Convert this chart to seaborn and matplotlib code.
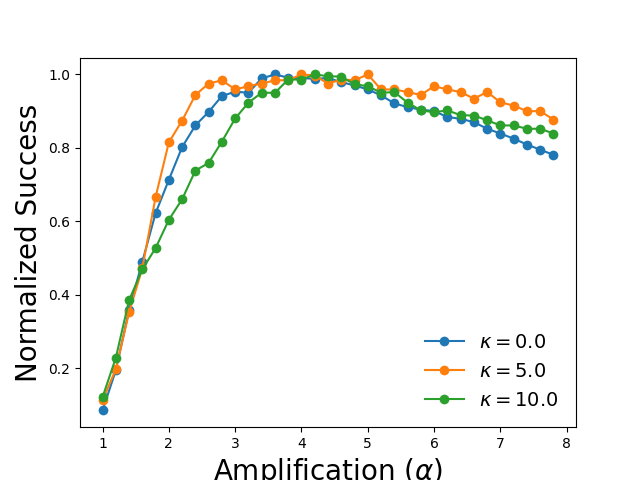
import numpy as np
import pandas as pd
import matplotlib
matplotlib.use("Agg")
import matplotlib.pyplot as plt
import seaborn as sns

alpha = np.round(np.arange(1.0, 7.81, 0.2), 1)

success_k0 = [0.085, 0.194, 0.358, 0.490, 0.622, 0.713, 0.802, 0.861, 0.898, 0.941,
              0.953, 0.950, 0.989, 1.000, 0.991, 0.990, 0.988, 0.990, 0.979, 0.970,
              0.959, 0.943, 0.921, 0.911, 0.904, 0.900, 0.884, 0.879, 0.870, 0.852,
              0.839, 0.825, 0.809, 0.795, 0.781]
success_k5 = [0.112, 0.197, 0.352, 0.472, 0.666, 0.815, 0.874, 0.944, 0.975, 0.984,
              0.959, 0.968, 0.975, 0.984, 0.984, 1.000, 0.997, 0.975, 0.986, 0.984,
              1.000, 0.959, 0.959, 0.952, 0.944, 0.968, 0.959, 0.952, 0.934, 0.952,
              0.924, 0.915, 0.900, 0.900, 0.877]
success_k10 = [0.121, 0.228, 0.385, 0.469, 0.527, 0.604, 0.660, 0.738, 0.759, 0.817,
               0.880, 0.923, 0.950, 0.950, 0.986, 0.986, 1.000, 0.995, 0.994, 0.973,
               0.968, 0.950, 0.952, 0.923, 0.902, 0.897, 0.902, 0.889, 0.888, 0.875,
               0.861, 0.861, 0.852, 0.852, 0.839]

kappas = [r"$\kappa=0.0$", r"$\kappa=5.0$", r"$\kappa=10.0$"]

df = pd.DataFrame({
    "alpha": np.tile(alpha, 3),
    "success": success_k0 + success_k5 + success_k10,
    "kappa": np.repeat(kappas, len(alpha)),
})

fig, ax = plt.subplots(figsize=(6.4, 4.8), dpi=100)
sns.lineplot(data=df, x="alpha", y="success", hue="kappa", palette="tab10",
             marker="o", markersize=7, markeredgewidth=0, linewidth=1.5, ax=ax)

ax.set_xlabel(r"Amplification ($\alpha$)", fontsize=20)
ax.set_ylabel("Normalized Success", fontsize=20)
ax.legend(loc="lower right", frameon=False, fontsize=14)

fig.savefig("out.png", dpi=100)
